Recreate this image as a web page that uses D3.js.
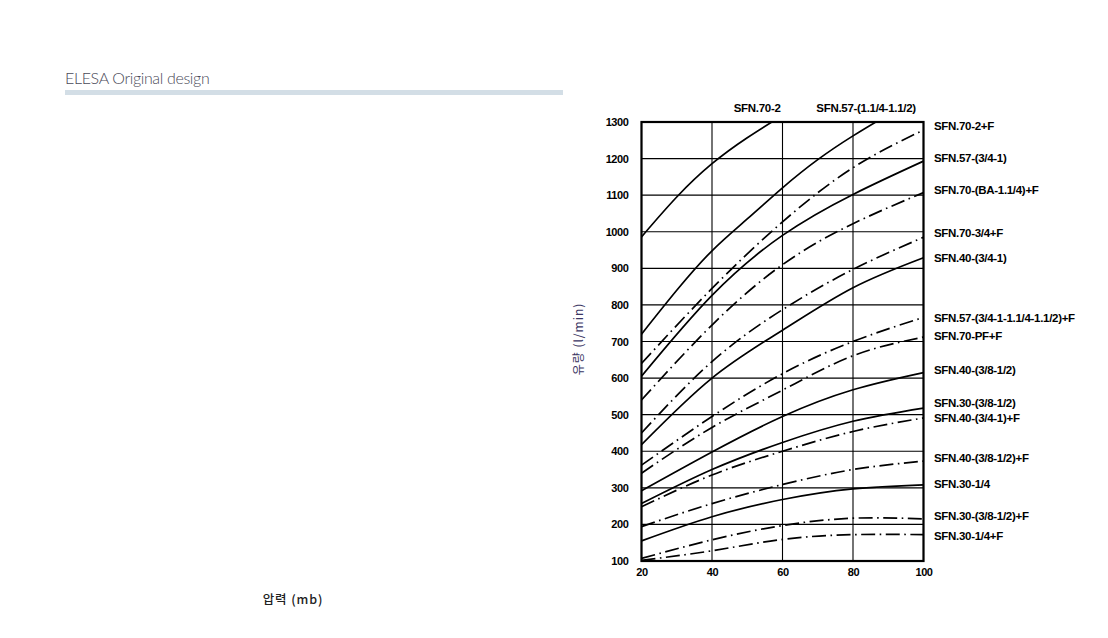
<!DOCTYPE html>
<html>
<head>
<meta charset="utf-8">
<script src="https://cdn.jsdelivr.net/npm/d3@7"></script>
<style>
  html, body { margin: 0; padding: 0; background: #fff; }
  svg { display: block; }
  .tick-lbl { font-family: "Liberation Sans", Arial, sans-serif; font-weight: bold; font-size: 11px; letter-spacing: -0.4px; fill: #000; }
  .ser-lbl { font-family: "Liberation Sans", Arial, sans-serif; font-weight: bold; font-size: 11.5px; letter-spacing: -0.3px; fill: #000; }
</style>
</head>
<body>
<svg id="chart" width="1108" height="638"></svg>
<script>
// ---------------- data ----------------
const pressureTicks = [20, 40, 60, 80, 100];
const flowTicks = [100, 200, 300, 400, 500, 600, 700, 800, 900, 1000, 1100, 1200, 1300];

// pressures (mb) at which curves were read
const pressure = [20, 40, 60, 80, 100];
const pressureFine = [20, 30, 40, 50, 60, 70, 80, 90];

// curves leaving the top of the chart (read at pressureFine)
const topNames = ["SFN.70-2", "SFN.57-(1.1/4-1.1/2)"];
const topFlow = [
  [986, 1095, 1186, 1257, 1318],
  [720, 840, 948, 1035, 1120, 1197, 1262, 1320]
];
const topLabelPressure = [52.8, 83.7];

// curves labelled on the right (read at pressure)
const rightNames = [
  "SFN.70-2+F", "SFN.57-(3/4-1)", "SFN.70-(BA-1.1/4)+F", "SFN.70-3/4+F",
  "SFN.40-(3/4-1)", "SFN.57-(3/4-1-1.1/4-1.1/2)+F", "SFN.70-PF+F",
  "SFN.40-(3/8-1/2)", "SFN.30-(3/8-1/2)", "SFN.40-(3/4-1)+F",
  "SFN.40-(3/8-1/2)+F", "SFN.30-1/4", "SFN.30-(3/8-1/2)+F", "SFN.30-1/4+F"
];
const rightDashed = [true, false, true, true, false, true, true, false, false, true, true, false, true, true];
const rightFlow = [
  [640, 845, 1027, 1175, 1278],
  [605, 826, 990, 1102, 1193],
  [540, 745, 910, 1022, 1107],
  [450, 645, 787, 897, 985],
  [418, 600, 731, 847, 929],
  [362, 495, 612, 700, 766],
  [340, 465, 567, 661, 712],
  [292, 398, 495, 568, 615],
  [257, 350, 424, 482, 518],
  [248, 335, 400, 454, 491],
  [194, 257, 309, 350, 373],
  [155, 221, 268, 297, 308],
  [107, 158, 197, 217, 215],
  [102, 128, 159, 172, 172]
];
// flow level where each right-hand label sits
const rightLabelFlow = [1289, 1202, 1114, 997, 928, 764, 715, 622, 532, 491, 382, 311, 224, 169];

// ---------------- drawing ----------------
const svg = d3.select("#chart");
const x = d3.scaleLinear().domain([20, 100]).range([641.5, 923.5]);
const y = d3.scaleLinear().domain([100, 1300]).range([561, 122]);

// header
svg.append("text")
  .attr("x", 65).attr("y", 83.5)
  .style("font-family", "Lato, 'Open Sans', sans-serif")
  .style("font-weight", 300)
  .style("font-size", "16px")
  .style("letter-spacing", "-0.35px")
  .style("fill", "#4a4a58")
  .text("ELESA Original design");
svg.append("rect").attr("x", 65).attr("y", 90).attr("width", 498).attr("height", 5).attr("fill", "#d3dee6");

// grid
const grid = svg.append("g");
grid.selectAll("line.v").data(pressureTicks).join("line")
  .attr("x1", d => x(d)).attr("x2", d => x(d))
  .attr("y1", y(1300)).attr("y2", y(100))
  .attr("stroke", "#000").attr("stroke-width", 1.1);
grid.selectAll("line.h").data(flowTicks).join("line")
  .attr("y1", d => y(d)).attr("y2", d => y(d))
  .attr("x1", x(20)).attr("x2", x(100))
  .attr("stroke", "#000").attr("stroke-width", 1.1);

// clip
svg.append("clipPath").attr("id", "plotclip").append("rect")
  .attr("x", x(20)).attr("y", y(1300)).attr("width", x(100) - x(20)).attr("height", y(100) - y(1300));

const line = d3.line().curve(d3.curveNatural);
const curves = svg.append("g").attr("clip-path", "url(#plotclip)");

topFlow.forEach((vals, i) => {
  const pts = vals.map((v, j) => [x(pressureFine[j]), y(v)]);
  curves.append("path").attr("d", line(pts))
    .attr("fill", "none").attr("stroke", "#000").attr("stroke-width", 1.7);
});
rightFlow.forEach((vals, i) => {
  const pts = vals.map((v, j) => [x(pressure[j]), y(v)]);
  curves.append("path").attr("d", line(pts))
    .attr("fill", "none").attr("stroke", "#000").attr("stroke-width", 1.7)
    .attr("stroke-dasharray", rightDashed[i] ? "14,4.5,1.6,4.5" : null);
});

// frame
svg.append("rect")
  .attr("x", x(20)).attr("y", y(1300)).attr("width", x(100) - x(20)).attr("height", y(100) - y(1300))
  .attr("fill", "none").attr("stroke", "#000").attr("stroke-width", 2.2);

// axes tick labels via d3 axes
const yAxis = svg.append("g").attr("transform", `translate(${x(20)},0)`)
  .call(d3.axisLeft(y).tickValues(flowTicks).tickSize(0).tickPadding(13).tickFormat(d3.format("d")));
yAxis.select(".domain").remove();
yAxis.selectAll("text").attr("class", "tick-lbl").attr("font-family", null).attr("font-size", null);

const xAxis = svg.append("g").attr("transform", `translate(0,${y(100)})`)
  .call(d3.axisBottom(x).tickValues(pressureTicks).tickSize(0).tickPadding(7).tickFormat(d3.format("d")));
xAxis.select(".domain").remove();
xAxis.selectAll("text").attr("class", "tick-lbl").attr("font-family", null).attr("font-size", null);

// series labels
svg.selectAll("text.rl").data(rightNames).join("text")
  .attr("class", "ser-lbl")
  .attr("x", x(100) + 10.5)
  .attr("y", (d, i) => y(rightLabelFlow[i]))
  .attr("dy", "0.36em")
  .text(d => d);
svg.selectAll("text.tl").data(topNames).join("text")
  .attr("class", "ser-lbl")
  .attr("x", (d, i) => x(topLabelPressure[i]))
  .attr("y", y(1300) - 10)
  .attr("text-anchor", "middle")
  .text(d => d);

// axis titles
svg.append("text")
  .attr("transform", `translate(583,339) rotate(-90)`)
  .attr("text-anchor", "middle")
  .style("font-family", "'Noto Sans CJK KR', 'Noto Sans', sans-serif")
  .style("font-size", "12px")
  .style("letter-spacing", "1px")
  .style("fill", "#3a3563")
  .text("유량 (l/min)");
svg.append("text")
  .attr("x", 293).attr("y", 604)
  .attr("text-anchor", "middle")
  .style("font-family", "'Noto Sans CJK KR', 'Noto Sans', sans-serif")
  .style("font-size", "12.5px")
  .style("font-weight", 500)
  .style("letter-spacing", "0.9px")
  .style("fill", "#222")
  .text("압력 (mb)");
</script>
</body>
</html>
